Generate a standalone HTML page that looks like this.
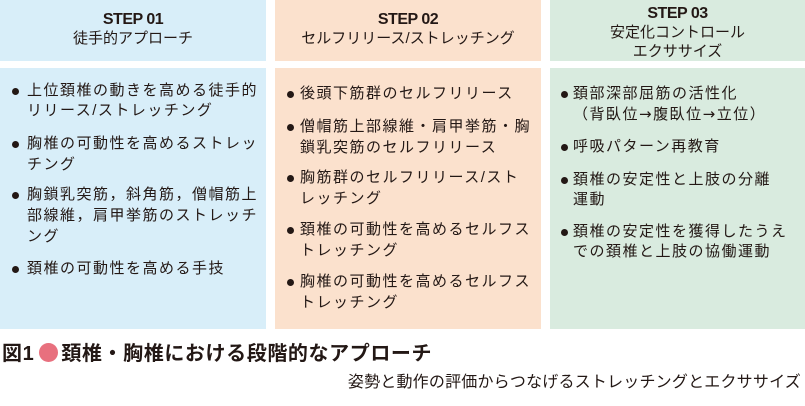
<!DOCTYPE html>
<html><head><meta charset="utf-8"><style>
body{margin:0;width:805px;height:406px;background:#fff;position:relative;overflow:hidden;font-family:"Liberation Sans","Noto Sans CJK JP",sans-serif;color:#231815}
.b{position:absolute}
.h1{background:#d8eef9}.h2{background:#fbe1cd}.h3{background:#d9ebdf}
.hd{text-align:center;font-size:15px;line-height:19px}
.hd b{font-family:"Liberation Sans",sans-serif;font-size:16px;letter-spacing:-0.5px}
.t{position:absolute;font-size:15px;letter-spacing:1.5px;white-space:nowrap;line-height:20px}
.dot{position:absolute;width:7px;height:7px;border-radius:50%;background:#231815}
</style></head><body>
<div class="b h1 hd" style="left:0;top:0;width:266px;height:61px;"><div style="padding-top:10px"><b>STEP 01</b><br>徒手的アプローチ</div></div>
<div class="b h2 hd" style="left:275px;top:0;width:266px;height:61px;"><div style="padding-top:10px"><b>STEP 02</b><br>セルフリリース/ストレッチング</div></div>
<div class="b h3 hd" style="left:550px;top:0;width:255px;height:61px;"><div style="padding-top:4px"><b>STEP 03</b><br>安定化コントロール<br>エクササイズ</div></div>
<div class="b h1" style="left:0;top:68px;width:266px;height:261px"></div>
<div class="b h2" style="left:275px;top:68px;width:266px;height:261px"></div>
<div class="b h3" style="left:550px;top:68px;width:255px;height:261px"></div>

<div class="dot" style="left:12px;top:88px"></div>
<div class="t" style="left:27px;top:81px">上位頚椎の動きを高める徒手的</div>
<div class="t" style="left:27px;top:101px">リリース/ストレッチング</div>
<div class="dot" style="left:12px;top:141px"></div>
<div class="t" style="left:27px;top:134px">胸椎の可動性を高めるストレッ</div>
<div class="t" style="left:27px;top:155px">チング</div>
<div class="dot" style="left:12px;top:192px"></div>
<div class="t" style="left:27px;top:185px">胸鎖乳突筋，斜角筋，僧帽筋上</div>
<div class="t" style="left:27px;top:206px">部線維，肩甲挙筋のストレッチ</div>
<div class="t" style="left:27px;top:227px">ング</div>
<div class="dot" style="left:12px;top:266px"></div>
<div class="t" style="left:27px;top:259px">頚椎の可動性を高める手技</div>

<div class="dot" style="left:287px;top:91px"></div>
<div class="t" style="left:300px;top:84px">後頭下筋群のセルフリリース</div>
<div class="dot" style="left:287px;top:124px"></div>
<div class="t" style="left:300px;top:117px">僧帽筋上部線維・肩甲挙筋・胸</div>
<div class="t" style="left:300px;top:138px">鎖乳突筋のセルフリリース</div>
<div class="dot" style="left:287px;top:175px"></div>
<div class="t" style="left:300px;top:168px">胸筋群のセルフリリース/スト</div>
<div class="t" style="left:300px;top:189px">レッチング</div>
<div class="dot" style="left:287px;top:227px"></div>
<div class="t" style="left:300px;top:220px">頚椎の可動性を高めるセルフス</div>
<div class="t" style="left:300px;top:241px">トレッチング</div>
<div class="dot" style="left:287px;top:279px"></div>
<div class="t" style="left:300px;top:272px">胸椎の可動性を高めるセルフス</div>
<div class="t" style="left:300px;top:293px">トレッチング</div>

<div class="dot" style="left:561px;top:91px"></div>
<div class="t" style="left:573px;top:84px">頚部深部屈筋の活性化</div>
<div class="t" style="left:573px;top:104px">（背臥位<span style="font-family:'DejaVu Sans'">→</span>腹臥位<span style="font-family:'DejaVu Sans'">→</span>立位）</div>
<div class="dot" style="left:561px;top:144px"></div>
<div class="t" style="left:573px;top:137px">呼吸パターン再教育</div>
<div class="dot" style="left:561px;top:177px"></div>
<div class="t" style="left:573px;top:170px">頚椎の安定性と上肢の分離</div>
<div class="t" style="left:573px;top:190px">運動</div>
<div class="dot" style="left:561px;top:229px"></div>
<div class="t" style="left:573px;top:222px">頚椎の安定性を獲得したうえ</div>
<div class="t" style="left:573px;top:242px">での頚椎と上肢の協働運動</div>

<div class="b" style="left:2px;top:341px;font-size:20px;letter-spacing:0.6px;font-weight:bold;white-space:nowrap;line-height:26px">図1<span style="display:inline-block;width:19px;height:19px;border-radius:50%;background:#e8707e;vertical-align:-2px;margin:0 3px 0 5px"></span>頚椎・胸椎における段階的なアプローチ</div>
<div class="b" style="right:4px;top:372px;font-size:16px;letter-spacing:0.2px;white-space:nowrap;line-height:22px">姿勢と動作の評価からつなげるストレッチングとエクササイズ</div>
</body></html>
